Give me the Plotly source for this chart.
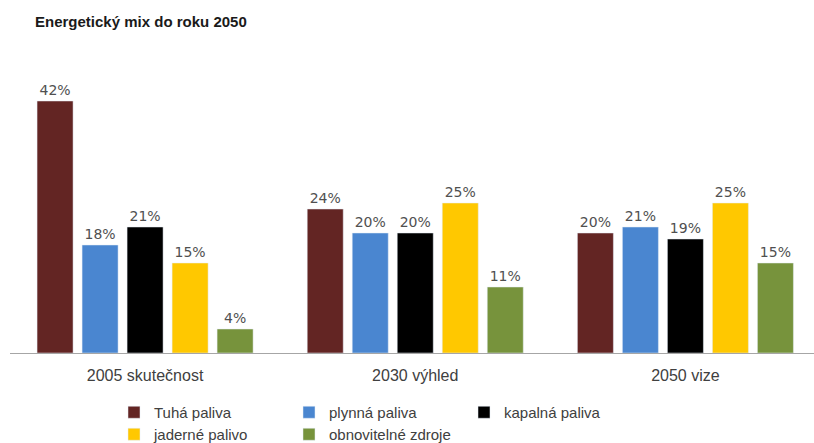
import plotly.graph_objects as go

categories = ["2005 skutečnost", "2030 výhled", "2050 vize"]
series_names = ["Tuhá paliva", "plynná paliva", "kapalná paliva", "jaderné palivo", "obnovitelné zdroje"]
tuha = [42, 24, 20]
plynna = [18, 20, 21]
kapalna = [21, 20, 19]
jaderne = [15, 25, 25]
obnovitelne = [4, 11, 15]
colors = ["#632523", "#4A86D0", "#000000", "#FFC800", "#77933C"]
legend_rows = ["legend", "legend", "legend", "legend2", "legend2"]

series_values = [tuha, plynna, kapalna, jaderne, obnovitelne]

fig = go.Figure()
for name, vals, col, lg in zip(series_names, series_values, colors, legend_rows):
    fig.add_trace(go.Bar(
        x=categories, y=vals, name=name, marker_color=col, legend=lg,
        text=[f"{v}%" for v in vals], textposition="outside",
        textfont=dict(family="DejaVu Sans", size=14, color="#505050"),
        cliponaxis=False,
    ))

W, H = 814, 443
legend_common = dict(orientation="h", xref="container", yref="container",
                     x=114 / W, xanchor="left", yanchor="top",
                     entrywidth=130, entrywidthmode="pixels", traceorder="normal",
                     font=dict(family="Liberation Sans", size=15, color="#404040"),
                     itemwidth=30, tracegroupgap=0, bgcolor="rgba(0,0,0,0)")

fig.update_layout(
    width=W, height=H,
    margin=dict(l=10, r=0, t=83, b=90, autoexpand=False),
    paper_bgcolor="white", plot_bgcolor="white",
    barmode="group", bargap=0.167, bargroupgap=0.2,
    title=dict(text="<b>Energetický mix do roku 2050</b>", x=35 / W, xanchor="left",
               y=1 - 22 / H, yanchor="middle",
               font=dict(family="Liberation Sans", size=15, color="#1a1a1a")),
    xaxis=dict(range=[-0.5, 2.476], showline=True, linecolor="#a6a6a6", linewidth=1,
               ticks="", ticklabelstandoff=8,
               tickfont=dict(family="Liberation Sans", size=16, color="#404040")),
    yaxis=dict(range=[0, 45], visible=False, showgrid=False),
    showlegend=True,
    legend=dict(legend_common, y=1 - 396 / H),
    legend2=dict(legend_common, y=1 - 418 / H),
    font=dict(family="Liberation Sans"),
)

fig.write_html("out.html")
